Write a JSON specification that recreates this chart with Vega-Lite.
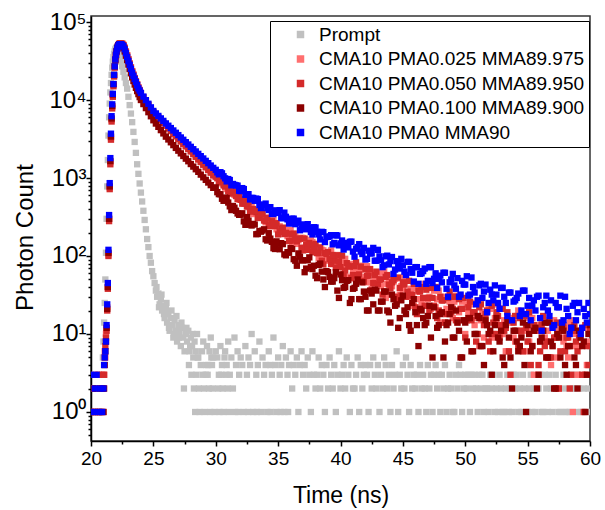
{
"$schema":"https://vega.github.io/schema/vega-lite/v6.json",
"width":499,"height":425,
"autosize":{"type":"none"},
"padding":{"left":91,"top":16,"right":15,"bottom":69},
"background":"white",
"config":{"view":{"stroke":"#333333","strokeWidth":1.5},"font":"Liberation Sans",
"axis":{"grid":false,"domainColor":"black","domainWidth":1.5,"tickColor":"black","tickWidth":1.5,"labelColor":"black","titleColor":"black","labelFont":"Liberation Sans","titleFont":"Liberation Sans","titleFontWeight":"normal"}},
"data":{"values":[
{"t":20,"p1":2,"p2":1,"p3":1,"p4":3},
{"t":20.15,"p1":1,"p2":2,"p3":2,"p4":1},
{"t":20.3,"p1":3,"p2":1,"p3":1,"p4":2},
{"t":20.45,"p1":1,"p2":1,"p3":2,"p4":3},
{"t":20.6,"p1":2,"p2":3,"p3":1,"p4":1},
{"t":20.75,"p1":1,"p2":2,"p3":1,"p4":2},
{"t":20.9,"p0":3,"p1":3,"p2":1,"p3":2,"p4":1},
{"t":20.95,"p0":5},
{"t":21.0,"p0":8,"p1":1,"p2":2,"p3":1,"p4":2},
{"t":21.05,"p0":14,"p1":3,"p2":3,"p3":2,"p4":4},
{"t":21.1,"p0":25,"p1":6,"p2":5,"p3":4,"p4":5},
{"t":21.15,"p0":50,"p1":5,"p2":7,"p3":6,"p4":6},
{"t":21.2,"p0":110,"p1":10,"p2":9,"p3":8,"p4":8},
{"t":21.25,"p0":300,"p1":12,"p2":11,"p3":12,"p4":13},
{"t":21.3,"p0":780,"p1":22,"p2":20,"p3":21,"p4":24},
{"t":21.35,"p0":1700,"p1":40,"p2":38,"p3":40,"p4":45},
{"t":21.4,"p0":3500,"p1":105,"p2":100,"p3":110,"p4":120},
{"t":21.45,"p0":6000,"p1":300,"p2":280,"p3":300,"p4":335},
{"t":21.5,"p0":9000,"p1":760,"p2":720,"p3":780,"p4":860},
{"t":21.55,"p0":12500,"p1":1600,"p2":1500,"p3":1650,"p4":1800},
{"t":21.6,"p0":16500,"p1":3300,"p2":3100,"p3":3400,"p4":3700},
{"t":21.65,"p0":21000,"p1":5600,"p2":5300,"p3":5800,"p4":6200},
{"t":21.7,"p0":26000,"p1":8200,"p2":7800,"p3":8400,"p4":8800},
{"t":21.75,"p0":31000,"p1":11500,"p2":11000,"p3":11800,"p4":12000},
{"t":21.8,"p0":35500,"p1":15500,"p2":15000,"p3":16000,"p4":16000},
{"t":21.85,"p0":39000,"p1":20500,"p2":20000,"p3":21000,"p4":21000},
{"t":21.9,"p0":42000,"p1":26500,"p2":26000,"p3":27000,"p4":27000},
{"t":21.95,"p0":44500,"p1":32500,"p2":32000,"p3":33000,"p4":33000},
{"t":22.0,"p0":46000,"p1":37500,"p2":37000,"p3":38000,"p4":38000},
{"t":22.05,"p0":47000,"p1":41500,"p2":41000,"p3":42500,"p4":42000},
{"t":22.1,"p0":47000,"p1":45000,"p2":45000,"p3":46000,"p4":45500},
{"t":22.15,"p0":46000,"p1":48000,"p2":48000,"p3":48500,"p4":48000},
{"t":22.2,"p0":44500,"p1":50500,"p2":50500,"p3":50500,"p4":50000},
{"t":22.25,"p0":42500,"p1":52000,"p2":52000,"p3":51500,"p4":51000},
{"t":22.3,"p0":40000,"p1":53000,"p2":53000,"p3":52000,"p4":52000},
{"t":22.35,"p0":35500,"p1":53500,"p2":53000,"p3":51500,"p4":52000},
{"t":22.4,"p0":31000,"p1":53500,"p2":53000,"p3":51500,"p4":52000},
{"t":22.5,"p0":27000,"p1":53000,"p2":52500,"p3":50000,"p4":51000},
{"t":22.6,"p0":23000,"p1":51000,"p2":50500,"p3":47000,"p4":49000},
{"t":22.7,"p0":19500,"p1":47000,"p2":46500,"p3":42000,"p4":44700},
{"t":22.8,"p0":16500,"p1":42000,"p2":41500,"p3":37000,"p4":39800},
{"t":22.9,"p0":14000,"p1":37500,"p2":37000,"p3":32500,"p4":35500},
{"t":23.0,"p0":11000,"p1":33500,"p2":33000,"p3":28500,"p4":31600},
{"t":23.1,"p0":8600,"p1":29500,"p2":29200,"p3":25000,"p4":28200},
{"t":23.2,"p0":6700,"p1":26300,"p2":26000,"p3":22000,"p4":25100},
{"t":23.3,"p0":5200,"p1":23500,"p2":23200,"p3":19500,"p4":22400},
{"t":23.4,"p0":3900,"p1":21200,"p2":21000,"p3":17500,"p4":20400},
{"t":23.5,"p0":2900,"p1":19200,"p2":19000,"p3":15800,"p4":18600},
{"t":23.6,"p0":2100,"p1":17500,"p2":17300,"p3":14300,"p4":17000},
{"t":23.7,"p0":1500,"p1":16000,"p2":15800,"p3":13000,"p4":15500},
{"t":23.8,"p0":1130,"p1":14600,"p2":14400,"p3":11900,"p4":14100},
{"t":23.9,"p0":850,"p1":13500,"p2":13300,"p3":10900,"p4":13200},
{"t":24.0,"p0":650,"p1":12400,"p2":12200,"p3":10000,"p4":12300},
{"t":24.2,"p0":380,"p1":10900,"p2":10770,"p3":8870,"p4":11070},
{"t":24.4,"p0":220,"p1":9700,"p2":9640,"p3":7870,"p4":9950},
{"t":24.6,"p0":130,"p1":8750,"p2":8630,"p3":6980,"p4":8950},
{"t":24.8,"p0":82,"p1":7800,"p2":7730,"p3":6190,"p4":8050},
{"t":25.0,"p0":55,"p1":7000,"p2":6920,"p3":5500,"p4":7240},
{"t":25.2,"p0":36,"p1":6500,"p2":6400,"p3":4990,"p4":6730},
{"t":25.4,"p0":33,"p1":5950,"p2":5920,"p3":4530,"p4":6250},
{"t":25.6,"p0":28,"p1":5550,"p2":5470,"p3":4110,"p4":5810},
{"t":25.8,"p0":23,"p1":5100,"p2":5060,"p3":3730,"p4":5400},
{"t":26.0,"p0":21,"p1":4750,"p2":4680,"p3":3390,"p4":5010},
{"t":26.2,"p0":18,"p1":4350,"p2":4330,"p3":3120,"p4":4680},
{"t":26.4,"p0":16,"p1":4050,"p2":4000,"p3":2870,"p4":4370},
{"t":26.6,"p0":9,"p1":3720,"p2":3700,"p3":2640,"p4":4070},
{"t":26.8,"p0":11,"p1":3470,"p2":3420,"p3":2430,"p4":3800},
{"t":27.0,"p0":13,"p1":3180,"p2":3160,"p3":2240,"p4":3550},
{"t":27.2,"p0":7,"p1":2980,"p2":2940,"p3":2070,"p4":3310},
{"t":27.4,"p0":9,"p1":2750,"p2":2730,"p3":1915,"p4":3090},
{"t":27.6,"p0":10,"p1":2580,"p2":2540,"p3":1770,"p4":2880},
{"t":27.8,"p0":11,"p1":2370,"p2":2355,"p3":1640,"p4":2690},
{"t":28.0,"p0":9,"p1":2220,"p2":2190,"p3":1510,"p4":2510},
{"t":28.2,"p0":5,"p1":2040,"p2":2020,"p3":1400,"p4":2340},
{"t":28.4,"p0":6,"p1":1900,"p2":1870,"p3":1295,"p4":2190},
{"t":28.6,"p0":5,"p1":1740,"p2":1730,"p3":1200,"p4":2040},
{"t":28.8,"p0":4,"p1":1630,"p2":1600,"p3":1105,"p4":1905},
{"t":29.0,"p0":8,"p1":1490,"p2":1480,"p3":1020,"p4":1780},
{"t":29.2,"p0":3,"p1":1390,"p2":1370,"p3":946,"p4":1660},
{"t":29.4,"p0":4,"p1":1280,"p2":1265,"p3":875,"p4":1550},
{"t":29.6,"p0":9,"p1":1190,"p2":1170,"p3":810,"p4":1445},
{"t":29.8,"p0":5,"p1":1090,"p2":1080,"p3":748,"p4":1350},
{"t":30.0,"p0":6,"p1":1030,"p2":1045,"p3":757,"p4":1273},
{"t":30.25,"p0":3,"p1":1014,"p2":890,"p3":621,"p4":1115},
{"t":30.5,"p0":4,"p1":854,"p2":919,"p3":542,"p4":1148},
{"t":30.75,"p0":6,"p1":754,"p2":778,"p3":561,"p4":990},
{"t":31.0,"p0":8,"p1":774,"p2":675,"p3":485,"p4":969},
{"t":31.25,"p0":5,"p1":702,"p2":688,"p3":388,"p4":806},
{"t":31.5,"p0":9,"p1":607,"p2":659,"p3":416,"p4":817},
{"t":31.75,"p0":6,"p1":646,"p2":538,"p3":351,"p4":798},
{"t":32.0,"p0":5,"p1":532,"p2":525,"p3":338,"p4":680},
{"t":32.25,"p0":1,"p1":467,"p2":530,"p3":278,"p4":721},
{"t":32.5,"p0":3,"p1":493,"p2":431,"p3":315,"p4":611},
{"t":32.75,"p0":4,"p1":429,"p2":372,"p3":252,"p4":531},
{"t":33.0,"p0":1,"p1":345,"p2":400,"p3":258,"p4":555},
{"t":33.25,"p0":3,"p1":383,"p2":365,"p3":190,"p4":545},
{"t":33.5,"p0":8,"p1":329,"p2":310,"p3":209,"p4":451},
{"t":33.75,"p0":5,"p1":325,"p2":352,"p3":212,"p4":452},
{"t":34.0,"p0":4,"p1":270,"p2":281,"p3":164,"p4":470},
{"t":34.25,"p0":6,"p1":311,"p2":247,"p3":196,"p4":389},
{"t":34.5,"p0":3,"p1":254,"p2":279,"p3":152,"p4":347},
{"t":34.75,"p0":4,"p1":264,"p2":243,"p3":123,"p4":385},
{"t":35.0,"p0":5,"p1":197,"p2":189,"p3":144,"p4":357},
{"t":35.25,"p0":4,"p1":219,"p2":224,"p3":146,"p4":310},
{"t":35.5,"p0":1,"p1":227,"p2":191,"p3":105,"p4":360},
{"t":35.75,"p0":3,"p1":180,"p2":193,"p3":112,"p4":295},
{"t":36.0,"p0":6,"p1":215,"p2":157,"p3":126,"p4":264},
{"t":36.25,"p0":4,"p1":171,"p2":194,"p3":91,"p4":301},
{"t":36.5,"p0":5,"p1":143,"p2":154,"p3":75,"p4":267},
{"t":36.75,"p0":4,"p1":168,"p2":168,"p3":98,"p4":214},
{"t":37.0,"p0":3,"p1":170,"p2":118,"p3":88,"p4":254},
{"t":37.25,"p0":2,"p1":127,"p2":139,"p3":69,"p4":220},
{"t":37.5,"p0":3,"p1":134,"p2":147,"p3":96,"p4":227},
{"t":37.75,"p0":6,"p1":151,"p2":112,"p3":68,"p4":189},
{"t":38.0,"p0":2,"p1":112,"p2":143,"p3":56,"p4":232},
{"t":38.25,"p0":5,"p1":94,"p2":109,"p3":77,"p4":189},
{"t":38.5,"p0":4,"p1":120,"p2":87,"p3":63,"p4":204},
{"t":38.75,"p0":1,"p1":109,"p2":109,"p3":40,"p4":151},
{"t":39.0,"p0":2,"p1":87,"p2":112,"p3":62,"p4":176},
{"t":39.25,"p0":3,"p1":118,"p2":79,"p3":47,"p4":185},
{"t":39.5,"p0":4,"p1":86,"p2":87,"p3":52,"p4":147},
{"t":39.75,"p0":3,"p1":72,"p2":102,"p3":36,"p4":183},
{"t":40.0,"p0":2,"p1":96,"p2":72,"p3":58,"p4":145},
{"t":40.25,"p0":4,"p1":80,"p2":59,"p3":39,"p4":121},
{"t":40.5,"p0":5,"p1":54,"p2":81,"p3":48,"p4":147},
{"t":40.75,"p0":1,"p1":79,"p2":73,"p3":25,"p4":152},
{"t":41.0,"p0":2,"p1":63,"p2":57,"p3":38,"p4":114},
{"t":41.25,"p0":3,"p1":68,"p2":83,"p3":44,"p4":124},
{"t":41.5,"p0":1,"p1":50,"p2":58,"p3":28,"p4":142},
{"t":41.75,"p0":2,"p1":75,"p2":48,"p3":46,"p4":106},
{"t":42.0,"p0":4,"p1":54,"p2":68,"p3":30,"p4":90},
{"t":42.25,"p0":1,"p1":65,"p2":56,"p3":20,"p4":117},
{"t":42.5,"p0":2,"p1":38,"p2":36,"p3":33,"p4":108},
{"t":42.75,"p0":3,"p1":53,"p2":57,"p3":37,"p4":87},
{"t":43.0,"p0":4,"p1":61,"p2":44,"p3":20,"p4":120},
{"t":43.25,"p0":3,"p1":41,"p2":50,"p3":26,"p4":88},
{"t":43.5,"p0":5,"p1":63,"p2":35,"p3":35,"p4":76},
{"t":43.75,"p0":2,"p1":44,"p2":57,"p3":20,"p4":101},
{"t":44.0,"p0":1,"p1":32,"p2":39,"p3":14,"p4":86},
{"t":44.25,"p0":2,"p1":47,"p2":49,"p3":28,"p4":59},
{"t":44.5,"p0":6,"p1":52,"p2":26,"p3":24,"p4":86},
{"t":44.75,"p0":3,"p1":32,"p2":39,"p3":16,"p4":69},
{"t":45.0,"p0":4,"p1":38,"p2":46,"p3":31,"p4":76},
{"t":45.25,"p0":5,"p1":50,"p2":30,"p3":18,"p4":57},
{"t":45.5,"p0":1,"p1":31,"p2":48,"p3":13,"p4":84},
{"t":45.75,"p0":2,"p1":23,"p2":32,"p3":25,"p4":61},
{"t":46.0,"p0":2,"p1":39,"p2":22,"p3":19,"p4":72},
{"t":46.25,"p0":1,"p1":35,"p2":36,"p3":7,"p4":44},
{"t":46.5,"p0":2,"p1":25,"p2":40,"p3":20,"p4":60},
{"t":46.75,"p0":2,"p1":44,"p2":23,"p3":13,"p4":69},
{"t":47.0,"p0":4,"p1":28,"p2":29,"p3":17,"p4":48},
{"t":47.25,"p0":3,"p1":21,"p2":39,"p3":9,"p4":72},
{"t":47.5,"p0":3,"p1":36,"p2":23,"p3":22,"p4":51},
{"t":47.75,"p0":2,"p1":28,"p2":16,"p3":12,"p4":39},
{"t":48.0,"p0":1,"p1":14,"p2":30,"p3":18,"p4":56},
{"t":48.25,"p0":2,"p1":30,"p2":27,"p3":5,"p4":61},
{"t":48.5,"p0":1,"p1":21,"p2":18,"p3":13,"p4":38},
{"t":48.75,"p0":3,"p1":26,"p2":35,"p3":18,"p4":46},
{"t":49.0,"p0":1,"p1":16,"p2":21,"p3":9,"p4":59},
{"t":49.25,"p0":3,"p1":31,"p2":15,"p3":20,"p4":38},
{"t":49.5,"p0":4,"p1":19,"p2":28,"p3":11,"p4":30},
{"t":49.75,"p0":1,"p1":26,"p2":21,"p3":5,"p4":48},
{"t":50.0,"p0":3,"p1":10,"p2":9,"p3":14,"p4":43},
{"t":50.25,"p0":3,"p1":19,"p2":22,"p3":16,"p4":31},
{"t":50.5,"p0":3,"p1":24,"p2":15,"p3":6,"p4":53},
{"t":50.75,"p0":3,"p1":13,"p2":19,"p3":10,"p4":34},
{"t":51.0,"p0":1,"p1":27,"p2":10,"p3":17,"p4":27},
{"t":51.25,"p0":2,"p1":15,"p2":24,"p3":7,"p4":44},
{"t":51.5,"p0":1,"p1":9,"p2":13,"p3":4,"p4":35},
{"t":51.75,"p0":2,"p1":19,"p2":20,"p3":13,"p4":19},
{"t":52.0,"p0":3,"p1":21,"p2":6,"p3":11,"p4":37},
{"t":52.25,"p0":3,"p1":10,"p2":14,"p3":6,"p4":27},
{"t":52.5,"p0":2,"p1":14,"p2":19,"p3":16,"p4":32},
{"t":52.75,"p0":3,"p1":21,"p2":9,"p3":8,"p4":21},
{"t":53.0,"p0":1,"p1":10,"p2":21,"p3":5,"p4":39},
{"t":53.25,"p0":2,"p1":6,"p2":12,"p3":13,"p4":25},
{"t":53.5,"p0":1,"p1":16,"p2":6,"p3":9,"p4":34},
{"t":53.75,"p0":1,"p1":14,"p2":15,"p3":2,"p4":15},
{"t":54.0,"p0":2,"p1":8,"p2":17,"p3":11,"p4":27},
{"t":54.25,"p0":1,"p1":20,"p2":7,"p3":6,"p4":33},
{"t":54.5,"p0":1,"p1":10,"p2":11,"p3":9,"p4":20},
{"t":54.75,"p0":2,"p1":6,"p2":17,"p3":4,"p4":36},
{"t":55.0,"p0":1,"p1":16,"p2":8,"p3":13,"p4":23},
{"t":55.25,"p0":3,"p1":11,"p2":4,"p3":6,"p4":15},
{"t":55.5,"p0":2,"p1":3,"p2":13,"p3":11,"p4":27},
{"t":55.75,"p0":2,"p1":13,"p2":11,"p3":2,"p4":30},
{"t":56.0,"p0":3,"p1":8,"p2":6,"p3":8,"p4":16},
{"t":56.25,"p0":1,"p1":11,"p2":17,"p3":11,"p4":22},
{"t":56.5,"p0":2,"p1":5,"p2":8,"p3":5,"p4":31},
{"t":56.75,"p0":3,"p1":15,"p2":5,"p3":14,"p4":17},
{"t":57.0,"p0":1,"p1":7,"p2":13,"p3":7,"p4":12},
{"t":57.25,"p0":3,"p1":12,"p2":9,"p3":2,"p4":25},
{"t":57.5,"p0":1,"p1":2,"p2":2,"p3":9,"p4":22},
{"t":57.75,"p0":2,"p1":9,"p2":11,"p3":12,"p4":14},
{"t":58.0,"p0":1,"p1":12,"p2":6,"p3":4,"p4":30},
{"t":58.25,"p0":2,"p1":5,"p2":9,"p3":7,"p4":17},
{"t":58.5,"p0":3,"p1":15,"p2":3,"p3":12,"p4":12},
{"t":58.75,"p0":2,"p1":7,"p2":13,"p3":5,"p4":25},
{"t":59.0,"p0":3,"p1":3,"p2":6,"p3":2,"p4":19},
{"t":59.25,"p0":1,"p1":10,"p2":11,"p3":9,"p4":10},
{"t":59.5,"p0":2,"p1":12,"p2":1,"p3":8,"p4":21},
{"t":59.75,"p0":1,"p1":4,"p2":7,"p3":3,"p4":14},
{"t":60.0,"p0":1,"p1":7,"p2":11,"p3":13,"p4":18},
{"t":24.1,"p0":500},{"t":24.3,"p0":290},{"t":24.5,"p0":165},{"t":24.7,"p0":100},{"t":24.9,"p0":64},
{"t":25.1,"p0":45},{"t":25.3,"p0":30},{"t":25.5,"p0":24},{"t":25.7,"p0":20},{"t":25.9,"p0":16},
{"t":26.1,"p0":14},{"t":26.3,"p0":11},{"t":26.5,"p0":13},{"t":26.7,"p0":15},{"t":26.9,"p0":8},
{"t":27.1,"p0":10},{"t":27.3,"p0":12},{"t":27.5,"p0":6},{"t":27.7,"p0":8},{"t":27.9,"p0":6},
{"t":28.1,"p0":7},{"t":28.3,"p0":8},{"t":28.5,"p0":10},{"t":28.7,"p0":1},{"t":28.9,"p0":6},
{"t":29.1,"p0":1},{"t":29.3,"p0":7},{"t":29.5,"p0":6},{"t":29.7,"p0":4},{"t":29.9,"p0":1},
{"t":25.25,"p0":40},{"t":25.45,"p0":22},{"t":25.65,"p0":32},{"t":25.85,"p0":18},{"t":26.05,"p0":25},
{"t":26.25,"p0":12},{"t":26.45,"p0":20},{"t":26.65,"p0":10},{"t":26.85,"p0":17},{"t":27.05,"p0":9},
{"t":27.25,"p0":14},{"t":27.65,"p0":12},{"t":27.95,"p0":7},{"t":28.15,"p0":10},
{"t":27.45,"p0":2},{"t":28.25,"p0":2},{"t":28.65,"p0":2},{"t":29.05,"p0":2},{"t":29.45,"p0":2},
{"t":29.75,"p0":2},{"t":30.2,"p0":2},{"t":30.55,"p0":2},{"t":30.95,"p0":2},
{"t":28.05,"p0":3},{"t":28.45,"p0":3},{"t":28.95,"p0":3},{"t":29.35,"p0":3},{"t":30.45,"p0":3},{"t":30.85,"p0":3},
{"t":28.35,"p0":1},{"t":29.55,"p0":1},{"t":30.3,"p0":1},{"t":31.05,"p0":1},{"t":31.55,"p0":1},{"t":31.8,"p0":1},
{"t":32.6,"p0":1},{"t":33.3,"p0":1},{"t":34.4,"p0":1},{"t":35.2,"p0":1},{"t":35.8,"p0":1},
{"t":27.85,"p0":4},{"t":28.55,"p0":5},{"t":29.25,"p0":4},{"t":29.65,"p0":5},{"t":30.7,"p0":5},
{"t":30.125,"p0":5,"p1":1072,"p2":993,"p3":658,"p4":1181},
{"t":30.375,"p0":7,"p1":882,"p2":886,"p3":619,"p4":1187},
{"t":30.625,"p0":1,"p1":858,"p2":803,"p3":510,"p4":1053},
{"t":30.875,"p0":4,"p1":723,"p2":808,"p3":552,"p4":905},
{"t":31.125,"p0":3,"p1":748,"p2":631,"p3":433,"p4":941},
{"t":31.375,"p0":2,"p1":641,"p2":662,"p3":438,"p4":838},
{"t":31.625,"p0":4,"p1":653,"p2":587,"p3":380,"p4":804},
{"t":31.875,"p0":3,"p1":532,"p2":580,"p3":337,"p4":687},
{"t":32.125,"p0":4,"p1":522,"p2":469,"p3":353,"p4":742},
{"t":32.375,"p0":7,"p1":525,"p2":473,"p3":251,"p4":609},
{"t":32.625,"p0":5,"p1":423,"p2":483,"p3":284,"p4":621},
{"t":32.875,"p0":10,"p1":445,"p2":375,"p3":246,"p4":556},
{"t":33.125,"p0":6,"p1":383,"p2":377,"p3":253,"p4":510},
{"t":33.375,"p0":4,"p1":314,"p2":307,"p3":192,"p4":536},
{"t":33.625,"p0":1,"p1":354,"p2":341,"p3":205,"p4":412},
{"t":33.875,"p0":3,"p1":305,"p2":285,"p3":220,"p4":455},
{"t":34.125,"p0":1,"p1":298,"p2":307,"p3":158,"p4":411},
{"t":34.375,"p0":4,"p1":242,"p2":241,"p3":167,"p4":423},
{"t":34.625,"p0":9,"p1":288,"p2":248,"p3":126,"p4":345},
{"t":34.875,"p0":1,"p1":220,"p2":263,"p3":154,"p4":363},
{"t":35.125,"p0":3,"p1":240,"p2":204,"p3":122,"p4":387},
{"t":35.375,"p0":7,"p1":211,"p2":231,"p3":142,"p4":304},
{"t":35.625,"p0":5,"p1":193,"p2":198,"p3":102,"p4":318},
{"t":35.875,"p0":4,"p1":215,"p2":155,"p3":110,"p4":261},
{"t":36.125,"p0":2,"p1":145,"p2":190,"p3":123,"p4":301},
{"t":36.375,"p0":3,"p1":180,"p2":163,"p3":87,"p4":256},
{"t":36.625,"p0":1,"p1":159,"p2":165,"p3":108,"p4":284},
{"t":36.875,"p0":6,"p1":171,"p2":128,"p3":88,"p4":225},
{"t":37.125,"p0":4,"p1":126,"p2":167,"p3":62,"p4":237},
{"t":37.375,"p0":5,"p1":143,"p2":120,"p3":88,"p4":256},
{"t":37.625,"p0":1,"p1":161,"p2":139,"p3":72,"p4":203},
{"t":37.875,"p0":3,"p1":113,"p2":121,"p3":75,"p4":234},
{"t":38.125,"p0":3,"p1":124,"p2":109,"p3":52,"p4":204},
{"t":38.375,"p0":2,"p1":91,"p2":129,"p3":80,"p4":163},
{"t":38.625,"p0":3,"p1":118,"p2":78,"p3":50,"p4":202},
{"t":38.875,"p0":4,"p1":93,"p2":106,"p3":64,"p4":175},
{"t":39.125,"p0":5,"p1":113,"p2":91,"p3":54,"p4":178},
{"t":39.375,"p0":2,"p1":79,"p2":103,"p3":47,"p4":141},
{"t":39.625,"p0":1,"p1":89,"p2":71,"p3":62,"p4":185},
{"t":39.875,"p0":6,"p1":103,"p2":85,"p3":29,"p4":137},
{"t":40.125,"p0":3,"p1":72,"p2":101,"p3":49,"p4":158},
{"t":40.375,"p0":2,"p1":92,"p2":65,"p3":40,"p4":140},
{"t":40.625,"p0":3,"p1":75,"p2":75,"p3":49,"p4":129},
{"t":40.875,"p0":4,"p1":52,"p2":52,"p3":28,"p4":153},
{"t":41.125,"p0":2,"p1":77,"p2":74,"p3":39,"p4":98},
{"t":41.375,"p0":5,"p1":63,"p2":56,"p3":50,"p4":130},
{"t":41.625,"p0":4,"p1":67,"p2":73,"p3":28,"p4":114},
{"t":41.875,"p0":3,"p1":46,"p2":47,"p3":35,"p4":127},
{"t":42.125,"p0":3,"p1":74,"p2":56,"p3":20,"p4":92},
{"t":42.375,"p0":4,"p1":46,"p2":68,"p3":36,"p4":108},
{"t":42.625,"p0":5,"p1":61,"p2":45,"p3":24,"p4":127},
{"t":42.875,"p0":2,"p1":51,"p2":63,"p3":36,"p4":87},
{"t":43.125,"p0":1,"p1":46,"p2":50,"p3":20,"p4":99},
{"t":43.375,"p0":2,"p1":61,"p2":32,"p3":26,"p4":72},
{"t":43.625,"p0":4,"p1":29,"p2":54,"p3":35,"p4":99},
{"t":43.875,"p0":3,"p1":50,"p2":43,"p3":19,"p4":78},
{"t":44.125,"p0":4,"p1":41,"p2":46,"p3":32,"p4":97},
{"t":44.375,"p0":3,"p1":51,"p2":30,"p3":23,"p4":67},
{"t":44.625,"p0":1,"p1":30,"p2":53,"p3":12,"p4":77},
{"t":44.875,"p0":2,"p1":41,"p2":31,"p3":27,"p4":92},
{"t":45.125,"p0":2,"p1":54,"p2":43,"p3":20,"p4":63},
{"t":45.375,"p0":3,"p1":30,"p2":35,"p3":22,"p4":84},
{"t":45.625,"p0":4,"p1":38,"p2":31,"p3":11,"p4":68},
{"t":45.875,"p0":3,"p1":23,"p2":44,"p3":28,"p4":47},
{"t":46.125,"p0":3,"p1":40,"p2":18,"p3":13,"p4":72},
{"t":46.375,"p0":4,"p1":28,"p2":35,"p3":21,"p4":59},
{"t":46.625,"p0":3,"p1":40,"p2":29,"p3":16,"p4":64},
{"t":46.875,"p0":1,"p1":23,"p2":37,"p3":14,"p4":44},
{"t":47.125,"p0":2,"p1":30,"p2":20,"p3":23,"p4":72},
{"t":47.375,"p0":1,"p1":39,"p2":29,"p3":5,"p4":45},
{"t":47.625,"p0":4,"p1":22,"p2":40,"p3":17,"p4":60},
{"t":47.875,"p0":3,"p1":36,"p2":20,"p3":13,"p4":51},
{"t":48.125,"p0":3,"p1":27,"p2":27,"p3":19,"p4":46},
{"t":48.375,"p0":4,"p1":14,"p2":14,"p3":8,"p4":61},
{"t":48.625,"p0":2,"p1":30,"p2":29,"p3":14,"p4":30},
{"t":48.875,"p0":2,"p1":23,"p2":19,"p3":22,"p4":50},
{"t":49.125,"p0":1,"p1":26,"p2":30,"p3":9,"p4":42},
{"t":49.375,"p0":2,"p1":14,"p2":15,"p3":14,"p4":52},
{"t":49.625,"p0":3,"p1":31,"p2":21,"p3":5,"p4":32},
{"t":49.875,"p0":2,"p1":15,"p2":29,"p3":15,"p4":43},
{"t":50.125,"p0":2,"p1":24,"p2":15,"p3":8,"p4":55},
{"t":50.375,"p0":1,"p1":19,"p2":26,"p3":16,"p4":32},
{"t":50.625,"p0":2,"p1":16,"p2":19,"p3":6,"p4":40},
{"t":50.875,"p0":2,"p1":25,"p2":8,"p3":10,"p4":24},
{"t":51.125,"p0":3,"p1":7,"p2":22,"p3":16,"p4":42},
{"t":51.375,"p0":3,"p1":19,"p2":16,"p3":7,"p4":29},
{"t":51.625,"p0":2,"p1":15,"p2":18,"p3":15,"p4":43},
{"t":51.875,"p0":1,"p1":21,"p2":8,"p3":10,"p4":25},
{"t":52.125,"p0":2,"p1":9,"p2":23,"p3":3,"p4":32},
{"t":52.375,"p0":1,"p1":16,"p2":10,"p3":13,"p4":42},
{"t":52.625,"p0":1,"p1":24,"p2":17,"p3":9,"p4":25},
{"t":52.875,"p0":2,"p1":10,"p2":13,"p3":11,"p4":39},
{"t":53.125,"p0":1,"p1":15,"p2":11,"p3":4,"p4":30},
{"t":53.375,"p0":3,"p1":6,"p2":19,"p3":15,"p4":17},
{"t":53.625,"p0":2,"p1":16,"p2":3,"p3":5,"p4":34},
{"t":53.875,"p0":3,"p1":9,"p2":14,"p3":11,"p4":26},
{"t":54.125,"p0":3,"p1":17,"p2":11,"p3":8,"p4":29},
{"t":54.375,"p0":2,"p1":7,"p2":16,"p3":7,"p4":17},
{"t":54.625,"p0":3,"p1":11,"p2":6,"p3":14,"p4":36},
{"t":54.875,"p0":1,"p1":18,"p2":12,"p3":1,"p4":18},
{"t":55.125,"p0":2,"p1":8,"p2":19,"p3":10,"p4":29},
{"t":55.375,"p0":1,"p1":16,"p2":7,"p3":7,"p4":23},
{"t":55.625,"p0":1,"p1":11,"p2":12,"p3":12,"p4":20},
{"t":55.875,"p0":2,"p1":3,"p2":4,"p3":3,"p4":31},
{"t":56.125,"p0":1,"p1":14,"p2":13,"p3":9,"p4":11},
{"t":56.375,"p0":3,"p1":9,"p2":7,"p3":14,"p4":25},
{"t":56.625,"p0":1,"p1":11,"p2":14,"p3":5,"p4":20},
{"t":56.875,"p0":2,"p1":4,"p2":5,"p3":8,"p4":27},
{"t":57.125,"p0":2,"p1":15,"p2":9,"p3":2,"p4":13},
{"t":57.375,"p0":2,"p1":5,"p2":14,"p3":10,"p4":22},
{"t":57.625,"p0":1,"p1":12,"p2":6,"p3":5,"p4":31},
{"t":57.875,"p0":3,"p1":8,"p2":13,"p3":11,"p4":15},
{"t":58.125,"p0":1,"p1":7,"p2":9,"p3":3,"p4":21},
{"t":58.375,"p0":1,"p1":14,"p2":2,"p3":7,"p4":10},
{"t":58.625,"p0":2,"p1":1,"p2":11,"p3":12,"p4":23},
{"t":58.875,"p0":1,"p1":10,"p2":8,"p3":4,"p4":15},
{"t":59.125,"p0":2,"p1":7,"p2":9,"p3":11,"p4":25},
{"t":59.375,"p0":1,"p1":12,"p2":3,"p3":7,"p4":12},
{"t":59.625,"p0":3,"p1":3,"p2":13,"p3":1,"p4":17},
{"t":59.875,"p0":2,"p1":8,"p2":4,"p3":10,"p4":25}
]},
"transform":[{"fold":["p0","p1","p2","p3","p4"],"as":["s","c"]},{"filter":"datum.c > 0"}],
"mark":{"type":"point","shape":"square","filled":true,"size":40,"opacity":1,"clip":true,"strokeWidth":0},
"encoding":{
"x":{"field":"t","type":"quantitative","scale":{"domain":[20,60],"nice":false,"zero":false},
"axis":{"title":"Time (ns)","values":[20,22.5,25,27.5,30,32.5,35,37.5,40,42.5,45,47.5,50,52.5,55,57.5,60],
"labelExpr":"datum.value % 5 == 0 ? format(datum.value, 'd') : ''",
"tickSize":{"condition":{"test":"datum.value % 5 == 0","value":5},"value":3},
"labelFontSize":19,"labelPadding":3,"labelFlush":false,"labelOverlap":false,
"titleFontSize":23,"titleY":61,"titleBaseline":"alphabetic"}},
"y":{"field":"c","type":"quantitative","scale":{"type":"log","domain":[0.4247,119400],"nice":false},
"axis":{"title":"Photon Count","values":[0.5,0.6,0.7,0.8,0.9,1,2,3,4,5,6,7,8,9,10,20,30,40,50,60,70,80,90,100,200,300,400,500,600,700,800,900,1000,2000,3000,4000,5000,6000,7000,8000,9000,10000,20000,30000,40000,50000,60000,70000,80000,90000,100000],
"labelExpr":"datum.value == 1 ? '10⁰' : datum.value == 10 ? '10¹' : datum.value == 100 ? '10²' : datum.value == 1000 ? '10³' : datum.value == 10000 ? '10⁴' : datum.value == 100000 ? '10⁵' : ''",
"tickSize":{"condition":{"test":"datum.value == 1 || datum.value == 10 || datum.value == 100 || datum.value == 1000 || datum.value == 10000 || datum.value == 100000","value":5},"value":3},
"labelFontSize":24,"labelPadding":0,"labelOverlap":false,"labelFlush":false,
"titleFontSize":24,"titleX":-59,"titleY":221,"titleAngle":-90,"titleBaseline":"alphabetic","titleAlign":"center"}},
"color":{"field":"s","type":"nominal","scale":{"domain":["p0","p1","p2","p3","p4"],"range":["#C0C0C0","#FF6F6F","#D42A2A","#8B0000","#0000FF"]},
"legend":{"title":null,"orient":"none","legendX":179,"legendY":5,"direction":"vertical","strokeColor":"black","fillColor":"white","padding":4,
"symbolType":"square","symbolSize":56,"symbolStrokeWidth":0,"symbolOffset":17,"labelOffset":9,"labelFontSize":19,"labelFont":"Liberation Sans","labelColor":"black","rowPadding":4.5,"labelLimit":400,"symbolOpacity":1,
"labelExpr":"datum.label == 'p0' ? 'Prompt' : datum.label == 'p1' ? 'CMA10 PMA0.025 MMA89.975' : datum.label == 'p2' ? 'CMA10 PMA0.050 MMA89.950' : datum.label == 'p3' ? 'CMA10 PMA0.100 MMA89.900' : 'CMA10 PMA0 MMA90'"}},
"order":{"field":"s","sort":"ascending"}
}
}
